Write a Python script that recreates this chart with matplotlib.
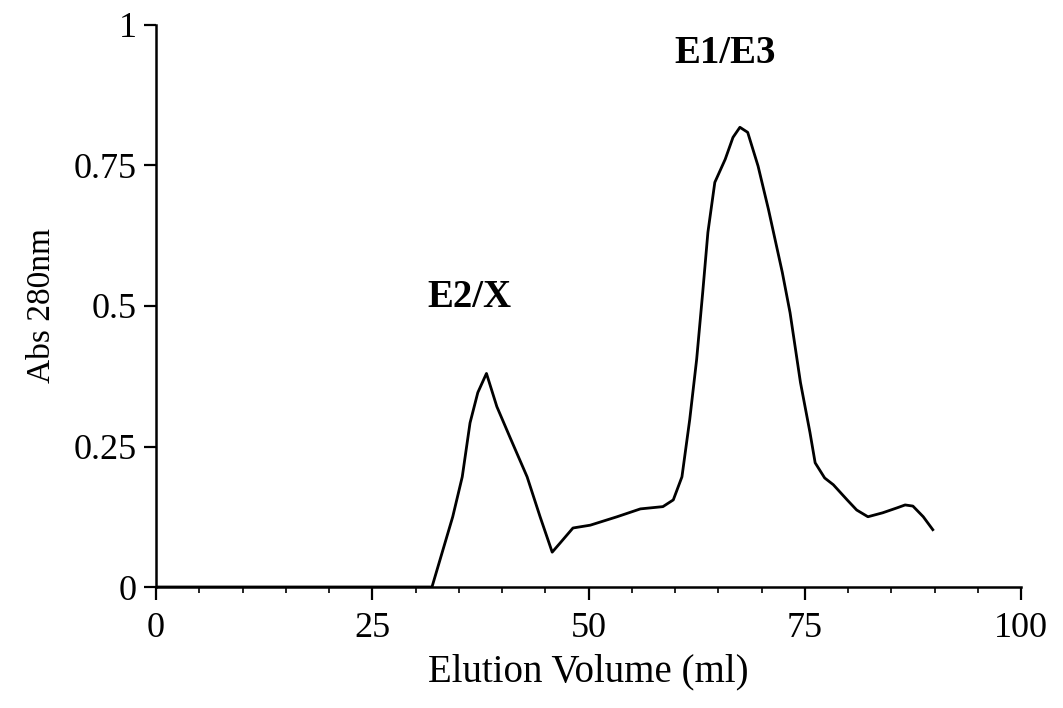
import matplotlib.pyplot as plt
import numpy as np

plt.rcParams['font.family'] = ['Liberation Serif', 'DejaVu Serif']

# elution profile
volume_ml = [0, 10, 20, 31.9, 34.3, 35.4, 36.3, 37.2, 38.2, 39.4, 40.9, 42.9, 44.4,
             45.8, 46.7, 48.2, 50.2, 53.3, 56.0, 58.6, 59.8, 60.8, 61.7, 62.5,
             63.2, 63.8, 64.6, 65.8, 66.7, 67.5, 68.4, 69.6, 70.8, 72.4, 73.3,
             74.5, 75.6, 76.2, 77.3, 78.3, 79.9, 81.0, 82.3, 84.0, 85.7, 86.6,
             87.5, 88.7, 89.8]
abs_280 = [0, 0, 0, 0, 0.125, 0.196, 0.292, 0.346, 0.380, 0.321, 0.267, 0.196, 0.125,
           0.062, 0.078, 0.105, 0.110, 0.125, 0.139, 0.143, 0.155, 0.196, 0.298,
           0.405, 0.524, 0.631, 0.720, 0.761, 0.800, 0.818, 0.809, 0.749, 0.672,
           0.560, 0.488, 0.364, 0.275, 0.221, 0.194, 0.182, 0.155, 0.137, 0.125,
           0.132, 0.141, 0.146, 0.144, 0.125, 0.102]

peak_names = ['E2/X', 'E1/E3']
peak_x = [36.2, 65.8]
peak_y = [0.515, 0.95]

xticks = [0, 25, 50, 75, 100]
yticks = [0, 0.25, 0.5, 0.75, 1]
ytick_labels = ['0', '0.25', '0.5', '0.75', '1']

fig = plt.figure(figsize=(10.63, 7.08), dpi=100)
ax = fig.add_axes([0.1468, 0.1709, 0.8137, 0.7938])

ax.plot(volume_ml, abs_280, color='black', lw=2.0, solid_joinstyle='round')

for name, px, py in zip(peak_names, peak_x, peak_y):
    ax.text(px, py, name, ha='center', va='center', fontsize=28,
            fontweight='bold')

ax.set_xlim(0, 100)
ax.set_ylim(0, 1)
ax.set_xticks(xticks)
ax.set_xticks(np.arange(0, 101, 5), minor=True)
ax.set_yticks(yticks)
ax.set_yticklabels(ytick_labels)

for side in ['top', 'right']:
    ax.spines[side].set_visible(False)
for side in ['left', 'bottom']:
    ax.spines[side].set_linewidth(1.8)

ax.tick_params(axis='both', which='major', direction='out', length=9,
               width=1.6, labelsize=26)
ax.tick_params(axis='x', which='major', pad=9)
ax.tick_params(axis='y', which='major', pad=5)
ax.tick_params(axis='x', which='minor', direction='out', length=4, width=1.2)

ax.set_xlabel('Elution Volume (ml)', fontsize=28, labelpad=6)
ax.set_ylabel('Abs 280nm', fontsize=24, labelpad=12)

fig.savefig('out.png', dpi=100)
